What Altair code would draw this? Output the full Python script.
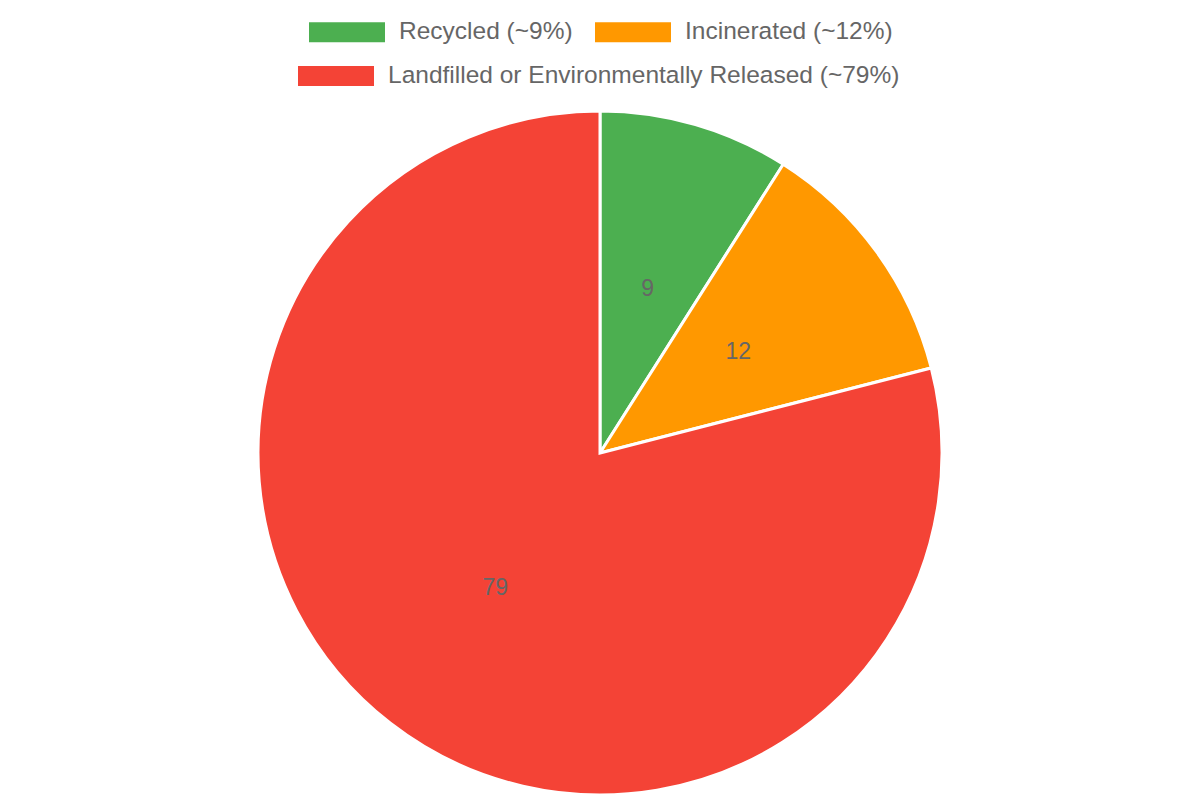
import altair as alt
import pandas as pd

categories = ["Recycled (~9%)", "Incinerated (~12%)", "Landfilled or Environmentally Released (~79%)"]
values = [9, 12, 79]
colors = ["#4CAF50", "#FF9800", "#F44336"]
order = [0, 1, 2]

df = pd.DataFrame({"category": categories, "value": values, "order": order})

FONT = "Liberation Sans"
BOX = "M-1,-0.2632h2v0.5264h-2z"

color_scale = alt.Scale(domain=categories, range=colors)

legend_common = dict(
    orient="none",
    direction="horizontal",
    title=None,
    symbolType=BOX,
    symbolSize=5776,
    symbolStrokeWidth=0,
    symbolOpacity=1,
    labelFont=FONT,
    labelFontSize=24.5,
    labelColor="#666666",
    labelOffset=14,
    columnPadding=22,
    labelLimit=0,
)

base = alt.Chart(df)

pie = base.mark_arc(outerRadius=342, stroke="white", strokeWidth=3).encode(
    theta=alt.Theta("value:Q", stack=True),
    order=alt.Order("order:Q"),
    color=alt.Color(
        "category:N",
        scale=color_scale,
        sort=categories,
        legend=alt.Legend(values=categories[:2], legendX=309, legendY=-6, **legend_common),
    ),
    x=alt.value(600),
    y=alt.value(453),
)

labels = base.mark_text(radius=171, font=FONT, fontSize=23, color="#666666").encode(
    theta=alt.Theta("value:Q", stack=True),
    order=alt.Order("order:Q"),
    text=alt.Text("value:Q"),
    x=alt.value(600),
    y=alt.value(453),
)

legend2 = base.mark_square(opacity=0, size=1).encode(
    color=alt.Color(
        "category:N",
        scale=color_scale,
        sort=categories,
        legend=alt.Legend(values=categories[2:], legendX=298, legendY=38, **legend_common),
    ),
    x=alt.value(0),
    y=alt.value(0),
)

chart = (
    alt.layer(pie, labels, legend2)
    .resolve_scale(color="independent")
    .resolve_legend(color="independent")
    .properties(width=1200, height=800, padding=0, autosize=alt.AutoSizeParams(type="none"))
    .configure_view(stroke=None)
)

chart.save("out.html", embed_options={"renderer": "svg", "actions": False})
